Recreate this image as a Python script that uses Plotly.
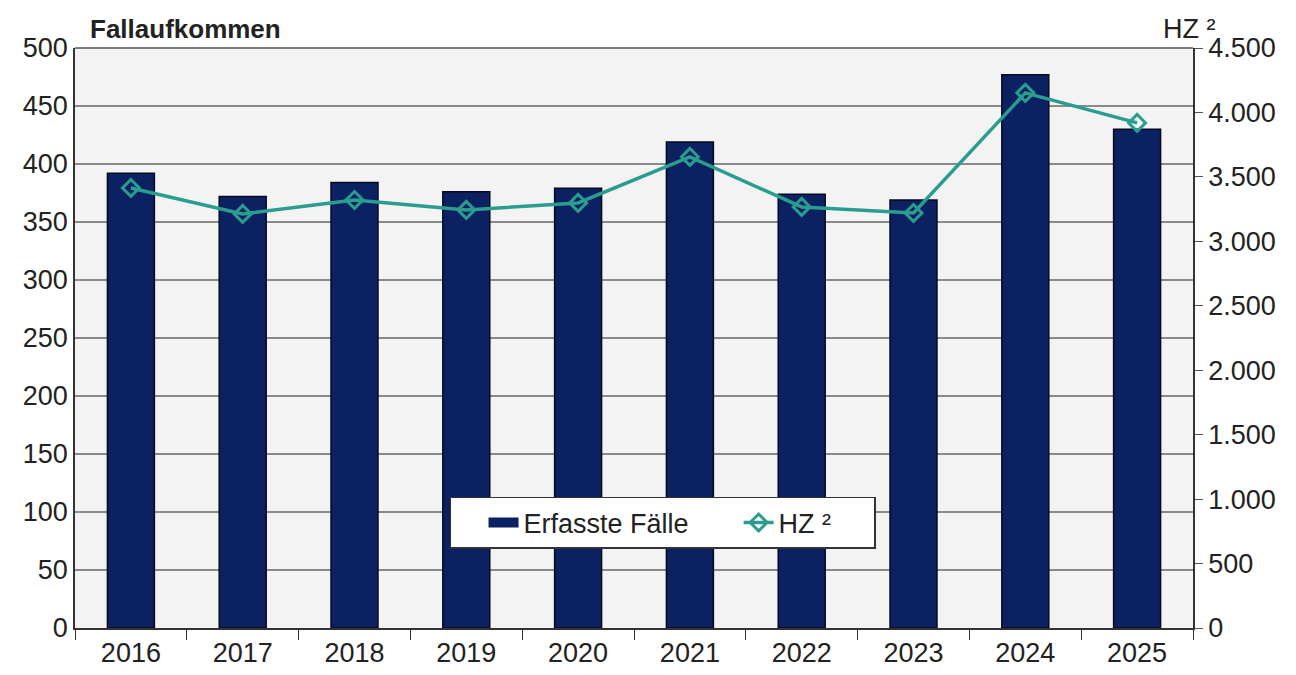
import plotly.graph_objects as go

years = ["2016", "2017", "2018", "2019", "2020", "2021", "2022", "2023", "2024", "2025"]
faelle = [392, 372, 384, 376, 379, 419, 374, 369, 477, 430]
hz = [3414, 3213, 3321, 3244, 3298, 3655, 3267, 3220, 4152, 3919]

left_ticks = [0, 50, 100, 150, 200, 250, 300, 350, 400, 450, 500]
right_ticks = [0, 500, 1000, 1500, 2000, 2500, 3000, 3500, 4000, 4500]
right_labels = ["0", "500", "1.000", "1.500", "2.000", "2.500", "3.000", "3.500", "4.000", "4.500"]

FONT = "Liberation Sans, Arial, sans-serif"
NAVY = "#0b2161"
TEAL = "#2a9d8f"
TXT = "#222222"
FS = 27
NB = "\u00a0"

fig = go.Figure()
fig.add_trace(go.Bar(
    x=years, y=faelle, name="Erfasste Fälle",
    marker=dict(color=NAVY, line=dict(color="#050a20", width=1.5)),
    width=0.42, yaxis="y", showlegend=False,
))
# legend entry for the bars (wide rectangle as in the original legend)
fig.add_trace(go.Scatter(
    x=[years[0]], y=[None], name="Erfasste Fälle" + NB * 6, mode="lines",
    line=dict(color=NAVY, width=16), showlegend=True, hoverinfo="skip",
))
fig.add_trace(go.Scatter(
    x=years, y=hz, name="HZ ²" + NB * 5, mode="lines+markers", yaxis="y2",
    line=dict(color=TEAL, width=3.5),
    marker=dict(symbol="diamond-open", size=13, color=TEAL,
                line=dict(color=TEAL, width=3)),
))

fig.update_layout(
    width=1296, height=675,
    margin=dict(l=67, r=111, t=40, b=55),
    paper_bgcolor="white", plot_bgcolor="#f3f3f3",
    font=dict(family=FONT, size=FS, color=TXT),
    showlegend=True,
    legend=dict(
        orientation="h", x=0.335, y=0.226, xanchor="left", yanchor="top",
        bgcolor="white", bordercolor="#333333", borderwidth=1.5,
        font=dict(family=FONT, size=FS, color=TXT),
        traceorder="normal",
        title=dict(text=NB * 3, side="left", font=dict(family=FONT, size=FS)),
    ),
    xaxis=dict(
        type="category", range=[-0.5, 9.5], autorange=False,
        showgrid=False, showline=True, linecolor="#333333", linewidth=1.5,
        ticks="outside", tickson="boundaries", ticklen=10, tickcolor="#333333",
        tickfont=dict(family=FONT, size=FS, color=TXT),
    ),
    yaxis=dict(
        range=[0, 500], tickvals=left_ticks, showgrid=True, gridcolor="#8a8a8a", gridwidth=1.5,
        showline=True, linecolor="#333333", linewidth=1.5, ticks="",
        tickfont=dict(family=FONT, size=FS, color=TXT), zeroline=False,
    ),
    yaxis2=dict(
        range=[0, 4500], overlaying="y", side="right",
        tickvals=right_ticks, ticktext=right_labels, showgrid=False,
        showline=True, linecolor="#333333", linewidth=1.5,
        ticks="outside", ticklen=8, tickcolor="#555555",
        tickfont=dict(family=FONT, size=FS, color=TXT), zeroline=False,
    ),
)

fig.add_annotation(text="<b>Fallaufkommen</b>", xref="paper", yref="paper",
                   x=0.012, y=1.0, xanchor="left", yanchor="bottom", yshift=2,
                   showarrow=False, font=dict(family=FONT, size=26, color=TXT))
fig.add_annotation(text="HZ ²", xref="paper", yref="paper",
                   x=1.0, y=1.0, xanchor="center", yanchor="bottom", yshift=2, xshift=-4,
                   showarrow=False, font=dict(family=FONT, size=FS, color=TXT))
fig.add_shape(type="line", xref="paper", yref="paper", x0=0, x1=1, y0=1, y1=1,
              line=dict(color="#555555", width=1.5))

fig.write_html("out.html")
